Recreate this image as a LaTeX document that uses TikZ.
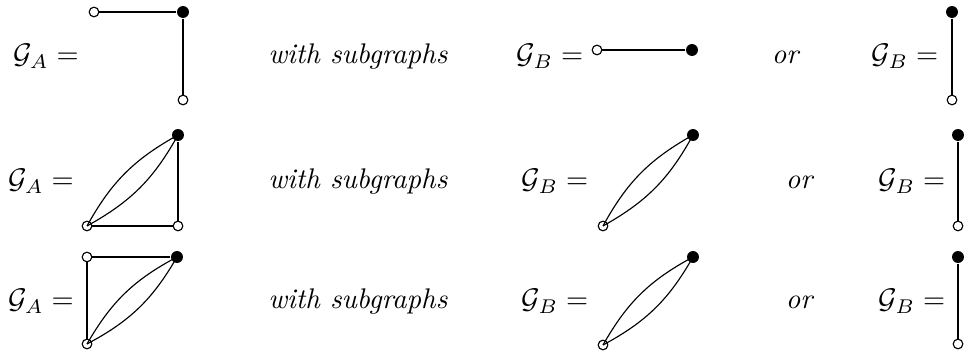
\documentclass[tikz,border=0pt]{standalone}
\tikzstyle{every node}=[inner sep=0pt]
\tikzstyle{full}=[circle, fill=black, minimum size=4.2pt]
\tikzstyle{hollow}=[circle, draw=black, fill=white, minimum size=3.4pt, thin]
\tikzstyle{eq}=[anchor=base]
\tikzstyle{lens}=[thin]

\begin{document}
\begin{tikzpicture}[x=0.352pt, y=-0.352pt]
    \useasboundingbox (0,0) rectangle (971,354);

    \node [eq] (ga1) at (46,64) {$\mathcal{G}_A =$};
    \node [eq] (ws1) at (358,64) {\textit{with subgraphs}};
    \node [eq] (gb1) at (550,64) {$\mathcal{G}_B =$};
    \node [eq] (or1) at (786,64) {\textit{or}};
    \node [eq] (gc1) at (905,64) {$\mathcal{G}_B =$};
    \node [hollow] (a1) at (94,12) {};
    \node [full] (b1) at (183,12) {};
    \node [hollow] (c1) at (183,100) {};
    \draw (a1) -- (b1) -- (c1);
    \node [hollow] (d1) at (597,50) {};
    \node [full] (e1) at (692,50) {};
    \draw (d1) -- (e1);
    \node [full] (f1) at (952,12) {};
    \node [hollow] (g1) at (952,100) {};
    \draw (f1) -- (g1);

    \node [eq] (ga2) at (41,189) {$\mathcal{G}_A =$};
    \node [eq] (ws2) at (358,189) {\textit{with subgraphs}};
    \node [eq] (gb2) at (555,189) {$\mathcal{G}_B =$};
    \node [eq] (or2) at (800,189) {\textit{or}};
    \node [eq] (gc2) at (912,189) {$\mathcal{G}_B =$};
    \node [hollow] (a2) at (87,226) {};
    \node [full] (b2) at (178,135) {};
    \node [hollow] (c2) at (178,226) {};
    \draw (a2) -- (c2) -- (b2);
    \draw [lens] (a2.center) to[bend left=16] (b2.center);
    \draw [lens] (a2.center) to[bend right=16] (b2.center);
    \node [hollow] (d2) at (603,226) {};
    \node [full] (e2) at (693,135) {};
    \draw [lens] (d2.center) to[bend left=16] (e2.center);
    \draw [lens] (d2.center) to[bend right=16] (e2.center);
    \node [full] (f2) at (958,135) {};
    \node [hollow] (g2) at (958,226) {};
    \draw (f2) -- (g2);

    \node [eq] (ga3) at (41,309) {$\mathcal{G}_A =$};
    \node [eq] (ws3) at (358,309) {\textit{with subgraphs}};
    \node [eq] (gb3) at (555,309) {$\mathcal{G}_B =$};
    \node [eq] (or3) at (800,309) {\textit{or}};
    \node [eq] (gc3) at (912,309) {$\mathcal{G}_B =$};
    \node [hollow] (a3) at (87,257) {};
    \node [full] (b3) at (177,257) {};
    \node [hollow] (c3) at (87,344) {};
    \draw (b3) -- (a3) -- (c3);
    \draw [lens] (c3.center) to[bend left=16] (b3.center);
    \draw [lens] (c3.center) to[bend right=16] (b3.center);
    \node [hollow] (d3) at (603,345) {};
    \node [full] (e3) at (693,257) {};
    \draw [lens] (d3.center) to[bend left=16] (e3.center);
    \draw [lens] (d3.center) to[bend right=16] (e3.center);
    \node [full] (f3) at (958,257) {};
    \node [hollow] (g3) at (958,344) {};
    \draw (f3) -- (g3);
\end{tikzpicture}
\end{document}
